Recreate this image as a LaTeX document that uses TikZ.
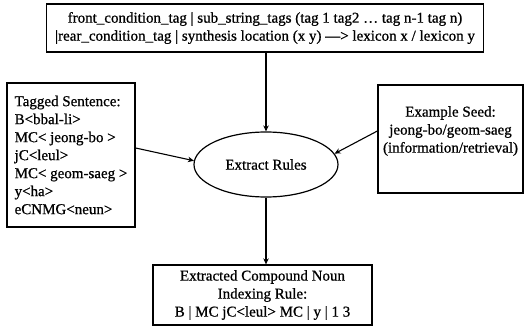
\documentclass[tikz,border=0pt]{standalone}
\usepackage{fontspec}
\setmainfont[FakeBold=0.8,AutoFakeBold=0.8]{Liberation Serif}
\usetikzlibrary{shapes.geometric,arrows.meta,calc}
\begin{document}
\begin{tikzpicture}[x=1pt,y=-1pt,
  every node/.style={font=\fontsize{15}{18}\selectfont},
  box/.style={draw,rectangle,line width=1.3pt,inner sep=0pt,align=center},
  txt/.style={inner sep=0pt,align=center},
  proc/.style={draw,ellipse,line width=1.2pt,inner sep=0pt,
    minimum width=144pt,minimum height=65pt},
  arr/.style={-{Stealth[length=6pt,width=5.5pt]},line width=1.1pt}]
\useasboundingbox (0,0) rectangle (529,329);

% rule template
\node[box,minimum width=437pt,minimum height=48pt] (rule) at (265,28)
  {front\_condition\_tag | sub\_string\_tags (tag 1 tag2 … tag n-1 tag n)\\
   |rear\_condition\_tag | synthesis location (x y) —> lexicon x / lexicon y};

% tagged sentence input
\node[box,align=left,minimum width=128pt,minimum height=144pt] (tagged) at (71,155)
  {Tagged Sentence:\\ B<bbal-li>\\ MC< jeong-bo >\\ jC<leul>\\
   MC< geom-saeg >\\ y<ha>\\ eCNMG<neun>};

% example seed input
\node[box,minimum width=145pt,minimum height=108pt] (seed) at (450.5,139) {};
\node[txt] (seedtext) at (450.5,131)
  {Example Seed:\\ jeong-bo/geom-saeg\\ (information/retrieval)};

% extraction step
\node[proc] (extract) at (266,164.5) {Extract Rules};

% resulting rule
\node[box,minimum width=219pt,minimum height=60pt] (result) at (262.5,295)
  {Extracted Compound Noun\\ Indexing Rule:\\ B | MC jC<leul> MC | y | 1 3};

% connectors
\draw[arr] (rule.south -| extract.north) -- (extract.north);
\draw[arr] ($(tagged.east)+(0,-7)$) -- (extract.177);
\draw[arr] ($(seed.west)+(0,-8)$) -- (extract.9);
\draw[arr] (extract.south) -- (extract.south |- result.north);
\end{tikzpicture}
\end{document}
